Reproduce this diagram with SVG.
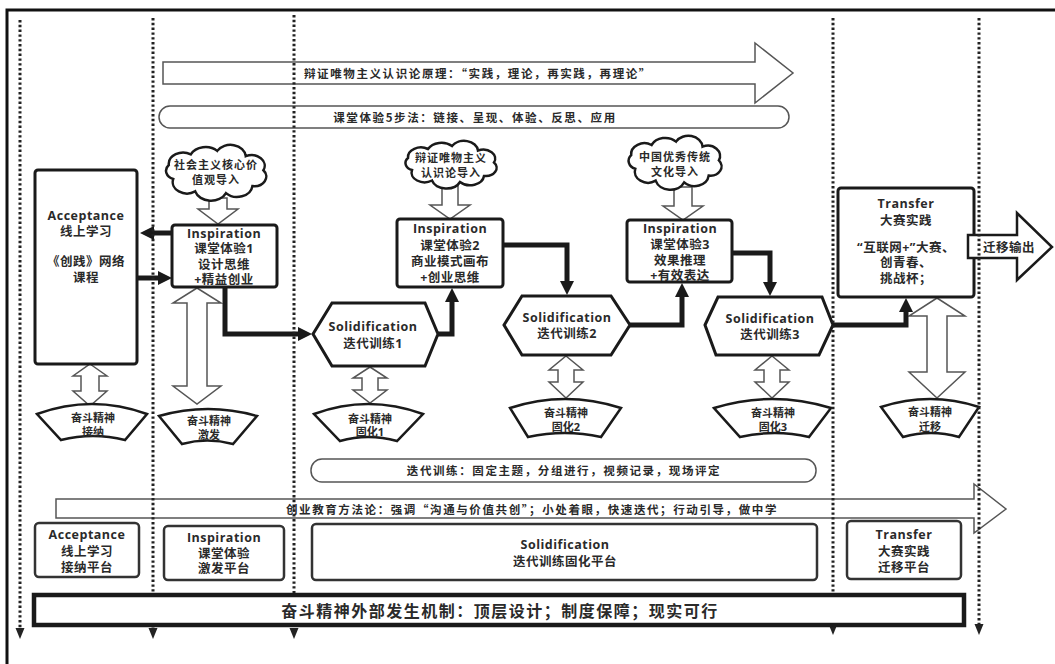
<svg xmlns="http://www.w3.org/2000/svg" width="1055" height="664" viewBox="0 0 1055 664">
<defs>
<style>
.t{font-family:'Open Sans','Noto Sans CJK SC',sans-serif;font-weight:bold;fill:#2a2a2a;text-anchor:middle;dominant-baseline:central}
.n{font-size:12.5px;letter-spacing:0.5px}
.s{font-size:11px}
.c{font-size:11px;letter-spacing:1px}
.band{font-family:'Noto Sans CJK SC',sans-serif;font-size:11.5px;letter-spacing:1.6px}
.big{font-family:'Noto Sans CJK SC',sans-serif;font-size:16px;letter-spacing:1.5px}
.box{fill:#fff;stroke:#1a1a1a;stroke-width:3}
.plat{fill:#fff;stroke:#333;stroke-width:2.5}
.hollow{fill:#fff;stroke:#555;stroke-width:1.5}
.conn{fill:none;stroke:#1a1a1a;stroke-width:5;marker-end:url(#ah)}
.dot{fill:none;stroke:#222;stroke-width:3;stroke-dasharray:2.4 2.4;marker-end:url(#dh)}
.bullet{fill:#fff;stroke:#1a1a1a;stroke-width:2.5}
.cloud{fill:#fff;stroke:#1a1a1a}
</style>
<marker id="ah" markerUnits="userSpaceOnUse" markerWidth="15" markerHeight="15" refX="4" refY="7" orient="auto"><path d="M0,0 L14,7 L0,14 Z" fill="#1a1a1a"/></marker>
<marker id="dh" markerUnits="userSpaceOnUse" markerWidth="12" markerHeight="10" refX="0" refY="4.5" orient="auto"><path d="M0,0 L11,4.5 L0,9 Z" fill="#222"/></marker>
<path id="cloudshape" vector-effect="non-scaling-stroke" stroke-width="2.5" d="M-38,8 A10,10 0 0 1 -42,-8 A13,13 0 0 1 -22,-20 A15,15 0 0 1 2,-24 A14,14 0 0 1 28,-18 A12,12 0 0 1 44,-2 A11,11 0 0 1 34,16 A14,14 0 0 1 10,24 A15,15 0 0 1 -18,22 A13,13 0 0 1 -38,8 Z"/>
</defs>

<rect x="0" y="0" width="1055" height="664" fill="#fff"/>
<path d="M7,664 L7,10 L1055,10" fill="none" stroke="#111" stroke-width="3"/>

<g id="bands">
  <path class="hollow" d="M163,62 L755,62 L755,43 L793,73 L755,103 L755,84 L163,84 Z"/>
  <text class="t band" x="478" y="73">辩证唯物主义认识论原理：“实践，理论，再实践，再理论”</text>
  <rect class="hollow" x="159" y="106" width="630" height="22" rx="11"/>
  <text class="t band" x="475" y="117">课堂体验5步法：链接、呈现、体验、反思、应用</text>
  <rect class="hollow" x="311" y="459" width="505" height="23" rx="11"/>
  <text class="t band" x="564" y="470">迭代训练：固定主题，分组进行，视频记录，现场评定</text>
  <path class="hollow" d="M56,499 L974,499 L974,484 L1006,509 L974,533 L974,518 L56,518 Z"/>
  <text class="t band" x="532" y="509">创业教育方法论：强调“沟通与价值共创”；小处着眼，快速迭代；行动引导，做中学</text>
</g>

<g id="hollow-arrows">
  <path class="hollow" d="M209,198 L227,198 L227,209 L238,209 L218,224 L198,209 L209,209 Z"/>
  <path class="hollow" d="M442,186 L458,186 L458,205 L470,205 L450,219 L430,205 L442,205 Z"/>
  <path class="hollow" d="M674,187 L692,187 L692,206 L703,206 L683,220 L663,206 L674,206 Z"/>
  <path class="hollow" d="M90,364 L107,376 L99,376 L99,391 L107,391 L90,406 L73,391 L81,391 L81,376 L73,376 Z"/>
  <path class="hollow" d="M197,288 L221,303 L207,303 L207,386 L221,386 L197,404 L173,386 L187,386 L187,303 L173,303 Z"/>
  <path class="hollow" d="M370,367 L387,378 L378,378 L378,390 L387,390 L370,403 L353,390 L362,390 L362,378 L353,378 Z"/>
  <path class="hollow" d="M566,356 L583,370 L574,370 L574,382 L583,382 L566,398 L549,382 L558,382 L558,370 L549,370 Z"/>
  <path class="hollow" d="M772,356 L789,370 L780,370 L780,382 L789,382 L772,398 L755,382 L764,382 L764,370 L755,370 Z"/>
  <path class="hollow" d="M937,298 L965,316 L947,316 L947,372 L965,372 L937,398 L909,372 L927,372 L927,316 L909,316 Z"/>
</g>

<g id="cloud1">
  <use href="#cloudshape" class="cloud" transform="translate(215,172) scale(1.1,0.88)"/>
  <text class="t c" x="216" y="164">社会主义核心价</text>
  <text class="t c" x="216" y="179">值观导入</text>
</g>
<g id="cloud2">
  <use href="#cloudshape" class="cloud" transform="translate(450,164) scale(1,0.75)"/>
  <text class="t c" x="451" y="157">辩证唯物主义</text>
  <text class="t c" x="451" y="172">认识论导入</text>
</g>
<g id="cloud3">
  <use href="#cloudshape" class="cloud" transform="translate(674,162) scale(1.02,0.85)"/>
  <text class="t c" x="675" y="156">中国优秀传统</text>
  <text class="t c" x="675" y="171">文化导入</text>
</g>

<g id="acceptance">
  <rect class="box" x="35" y="170" width="102" height="194" rx="3"/>
  <text class="t n" x="86" y="215">Acceptance</text>
  <text class="t n" x="86" y="231">线上学习</text>
  <text class="t n" x="86" y="261">《创践》网络</text>
  <text class="t n" x="86" y="277">课程</text>
</g>
<g id="inspiration1">
  <rect class="box" x="172" y="225" width="105" height="62" rx="3"/>
  <text class="t n" x="224" y="233">Inspiration</text>
  <text class="t n" x="224" y="248.5">课堂体验1</text>
  <text class="t n" x="224" y="264">设计思维</text>
  <text class="t n" x="224" y="279.5">+精益创业</text>
</g>
<g id="inspiration2">
  <rect class="box" x="397" y="219" width="106" height="68" rx="3"/>
  <text class="t n" x="450" y="228">Inspiration</text>
  <text class="t n" x="450" y="245">课堂体验2</text>
  <text class="t n" x="450" y="261.5">商业模式画布</text>
  <text class="t n" x="450" y="277.5">+创业思维</text>
</g>
<g id="inspiration3">
  <rect class="box" x="627" y="220" width="105" height="62" rx="3"/>
  <text class="t n" x="680" y="228.5">Inspiration</text>
  <text class="t n" x="680" y="244.5">课堂体验3</text>
  <text class="t n" x="680" y="260">效果推理</text>
  <text class="t n" x="680" y="275.5">+有效表达</text>
</g>
<g id="solidification1">
  <path class="box" d="M313,334 L332,303 L425,303 L438,334 L425,366 L332,366 Z"/>
  <text class="t n" x="373" y="326">Solidification</text>
  <text class="t n" x="373" y="343">迭代训练1</text>
</g>
<g id="solidification2">
  <path class="box" d="M504,325 L522,296 L611,296 L630,325 L611,355 L522,355 Z"/>
  <text class="t n" x="567" y="317">Solidification</text>
  <text class="t n" x="567" y="333.5">迭代训练2</text>
</g>
<g id="solidification3">
  <path class="box" d="M705,325 L718,297 L822,297 L833,325 L819,355 L716,355 Z"/>
  <text class="t n" x="770" y="318">Solidification</text>
  <text class="t n" x="770" y="334.5">迭代训练3</text>
</g>
<g id="transfer">
  <rect class="box" x="838" y="188" width="136" height="109" rx="3"/>
  <text class="t n" x="906" y="203">Transfer</text>
  <text class="t n" x="906" y="220">大赛实践</text>
  <text class="t n" x="906" y="247">“互联网+”大赛、</text>
  <text class="t n" x="906" y="262.5">创青春、</text>
  <text class="t n" x="906" y="278">挑战杯；</text>
</g>
<g id="transfer-output">
  <path d="M968,235 L1017,235 L1017,213 L1052,247 L1017,280 L1017,258 L968,258 Z" fill="#fff" stroke="#1a1a1a" stroke-width="2.5"/>
  <text class="t n" x="1009" y="247">迁移输出</text>
</g>

<g id="spirit-accept">
  <path class="bullet" d="M37,414 Q92,394 147,414 L125,440 Q93,432 61,440 Z"/>
  <text class="t s" x="93" y="417">奋斗精神</text>
  <text class="t s" x="93" y="431">接纳</text>
</g>
<g id="spirit-inspire">
  <path class="bullet" d="M159,416 Q208,402 257,416 L233,444 Q207,437 182,444 Z"/>
  <text class="t s" x="209" y="420">奋斗精神</text>
  <text class="t s" x="209" y="434">激发</text>
</g>
<g id="spirit-solid1">
  <path class="bullet" d="M314,414 Q368,394 423,414 L397,441 Q368,433 340,441 Z"/>
  <text class="t s" x="370" y="418">奋斗精神</text>
  <text class="t s" x="370" y="431">固化1</text>
</g>
<g id="spirit-solid2">
  <path class="bullet" d="M510,408 Q565,390 621,408 L601,437 Q565,429 528,437 Z"/>
  <text class="t s" x="566" y="412">奋斗精神</text>
  <text class="t s" x="566" y="426">固化2</text>
</g>
<g id="spirit-solid3">
  <path class="bullet" d="M714,408 Q772,390 831,408 L809,437 Q775,429 740,437 Z"/>
  <text class="t s" x="773" y="412">奋斗精神</text>
  <text class="t s" x="773" y="426">固化3</text>
</g>
<g id="spirit-transfer">
  <path class="bullet" d="M881,407 Q930,391 979,407 L959,437 Q931,429 903,437 Z"/>
  <text class="t s" x="930" y="411">奋斗精神</text>
  <text class="t s" x="930" y="426">迁移</text>
</g>

<g id="platform-acceptance">
  <rect class="plat" x="35" y="523" width="104" height="54" rx="4"/>
  <text class="t n" x="87" y="534.5">Acceptance</text>
  <text class="t n" x="87" y="551">线上学习</text>
  <text class="t n" x="87" y="567">接纳平台</text>
</g>
<g id="platform-inspiration">
  <rect class="plat" x="164" y="526" width="120" height="54" rx="4"/>
  <text class="t n" x="224" y="537.5">Inspiration</text>
  <text class="t n" x="224" y="553">课堂体验</text>
  <text class="t n" x="224" y="568.5">激发平台</text>
</g>
<g id="platform-solidification">
  <rect class="plat" x="312" y="524" width="505" height="56" rx="4"/>
  <text class="t n" x="565" y="544.5">Solidification</text>
  <text class="t n" x="565" y="561">迭代训练固化平台</text>
</g>
<g id="platform-transfer">
  <rect class="plat" x="847" y="521" width="114" height="58" rx="4"/>
  <text class="t n" x="904" y="534">Transfer</text>
  <text class="t n" x="904" y="551">大赛实践</text>
  <text class="t n" x="904" y="567">迁移平台</text>
</g>

<g id="connectors">
  <path class="conn" d="M225,287 L225,334 L302,334"/>
  <path class="conn" d="M438,334 L452,334 L452,298"/>
  <path class="conn" d="M503,245 L567,245 L567,285"/>
  <path class="conn" d="M630,325 L682,325 L682,293"/>
  <path class="conn" d="M732,253 L770,253 L770,286"/>
  <path class="conn" d="M833,325 L906,325 L906,308"/>
  <path class="conn" d="M172,233 L150,233"/>
  <path class="conn" d="M137,278 L162,278"/>
</g>

<g id="stage-lines">
  <path class="dot" d="M20,20 L20,628"/>
  <path class="dot" d="M153,18 L153,628"/>
  <path class="dot" d="M294,15 L294,628"/>
  <path class="dot" d="M833,18 L833,624"/>
  <path class="dot" d="M979,18 L979,624"/>
</g>

<g id="mechanism">
  <rect x="34" y="595" width="930" height="30" fill="#fff" stroke="#1a1a1a" stroke-width="4.5"/>
  <text class="t big" x="500" y="610">奋斗精神外部发生机制：顶层设计；制度保障；现实可行</text>
</g>
</svg>
